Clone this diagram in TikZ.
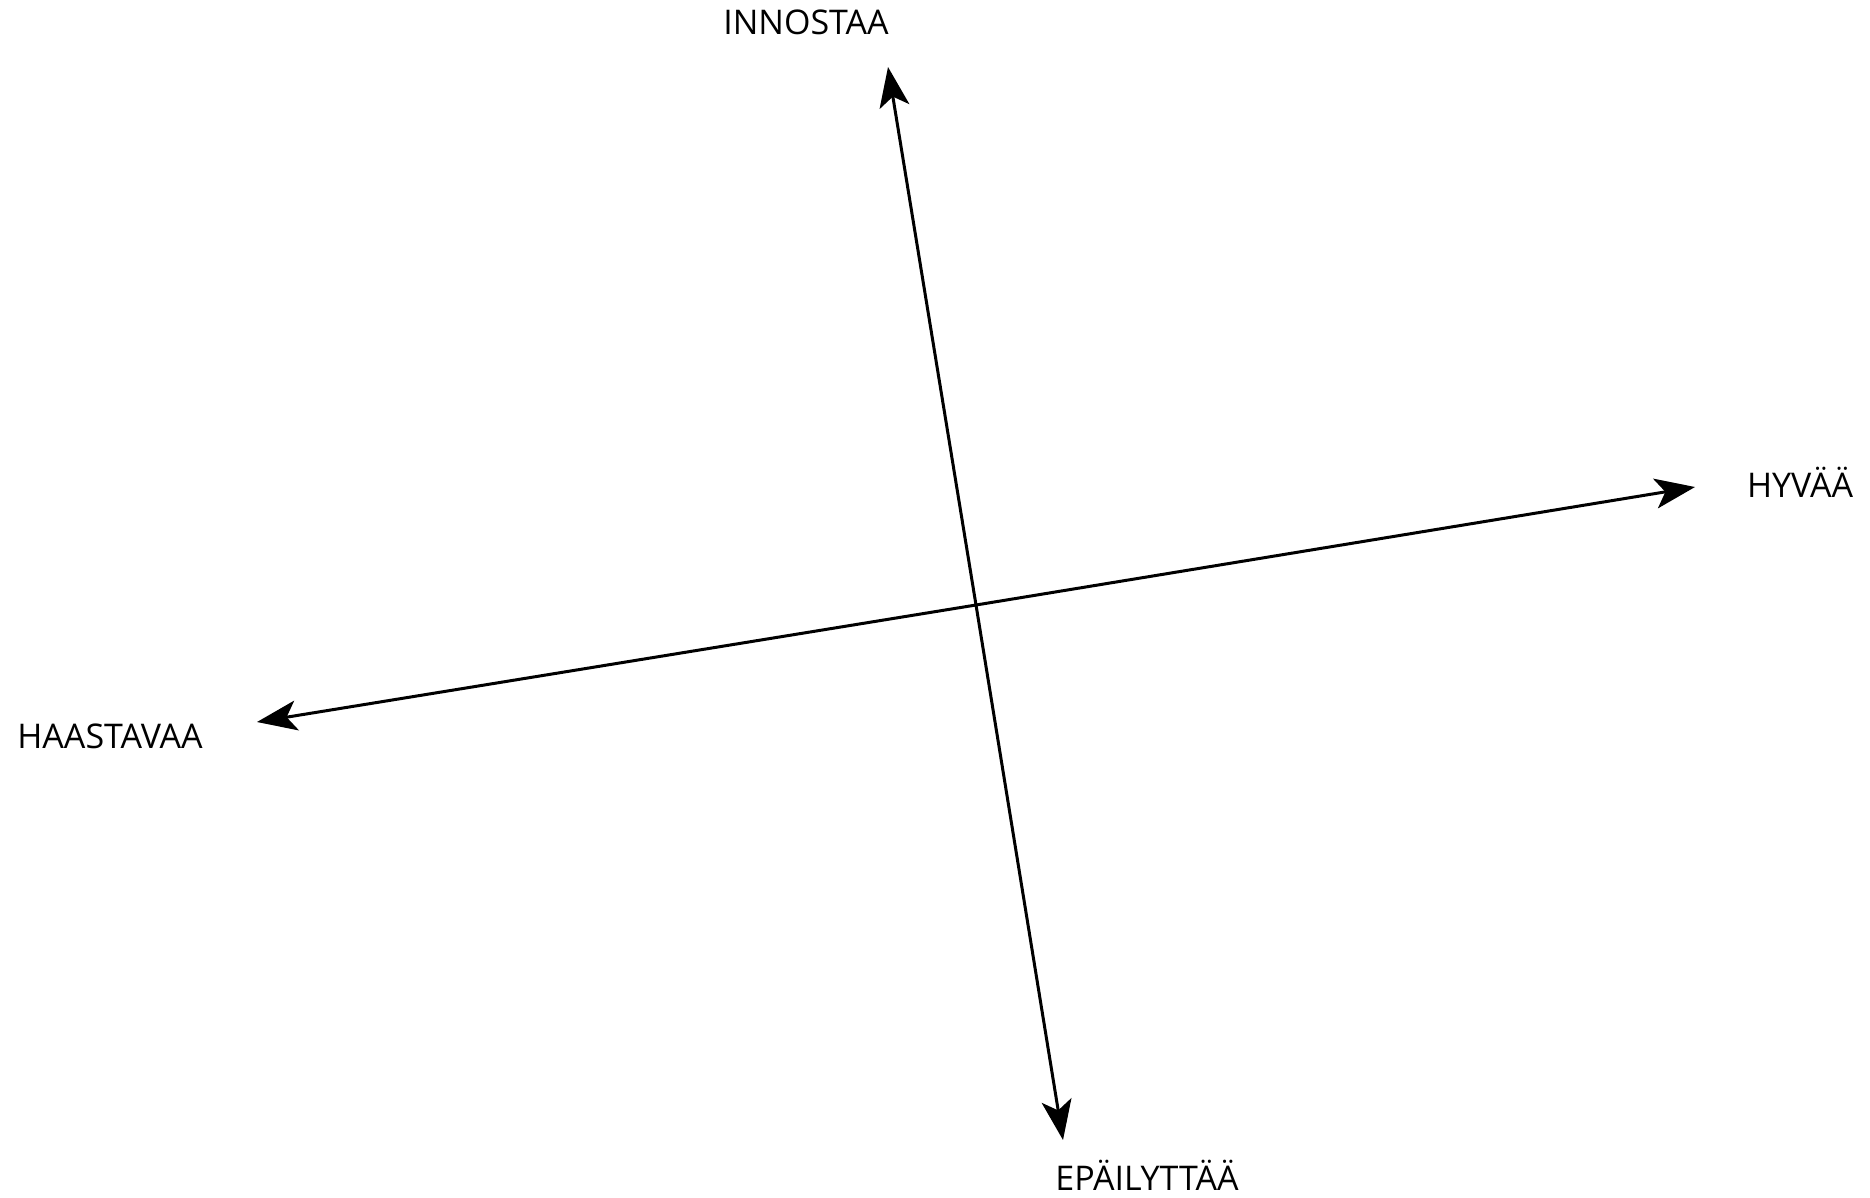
\documentclass[tikz,border=0pt]{standalone}
\usepackage{fontspec}
\setmainfont{Open Sans}
\usetikzlibrary{arrows.meta}
\begin{document}
\begin{tikzpicture}[x=1pt,y=-1pt,
  axis/.style={line width=3pt, -{Stealth[length=40pt,width=30pt,inset=10pt]}},
  lbl/.style={font=\fontsize{34}{40}\selectfont, inner sep=0pt, anchor=base}]
\useasboundingbox (0,0) rectangle (1870,1198);
\coordinate (c) at (976,605);
\coordinate (top) at (888,67);
\coordinate (bot) at (1063,1140);
\coordinate (lft) at (257,722);
\coordinate (rgt) at (1695,487);
\draw[axis] (c) -- (top);
\draw[axis] (c) -- (bot);
\draw[axis] (c) -- (lft);
\draw[axis] (c) -- (rgt);
\node[lbl] (tInn) at (806,35) {INNOSTAA};
\node[lbl] (tEpa) at (1147,1190) {EPÄILYTTÄÄ};
\node[lbl] (tHaa) at (110,748) {HAASTAVAA};
\node[lbl] (tHyv) at (1800,497) {HYVÄÄ};
\end{tikzpicture}
\end{document}
